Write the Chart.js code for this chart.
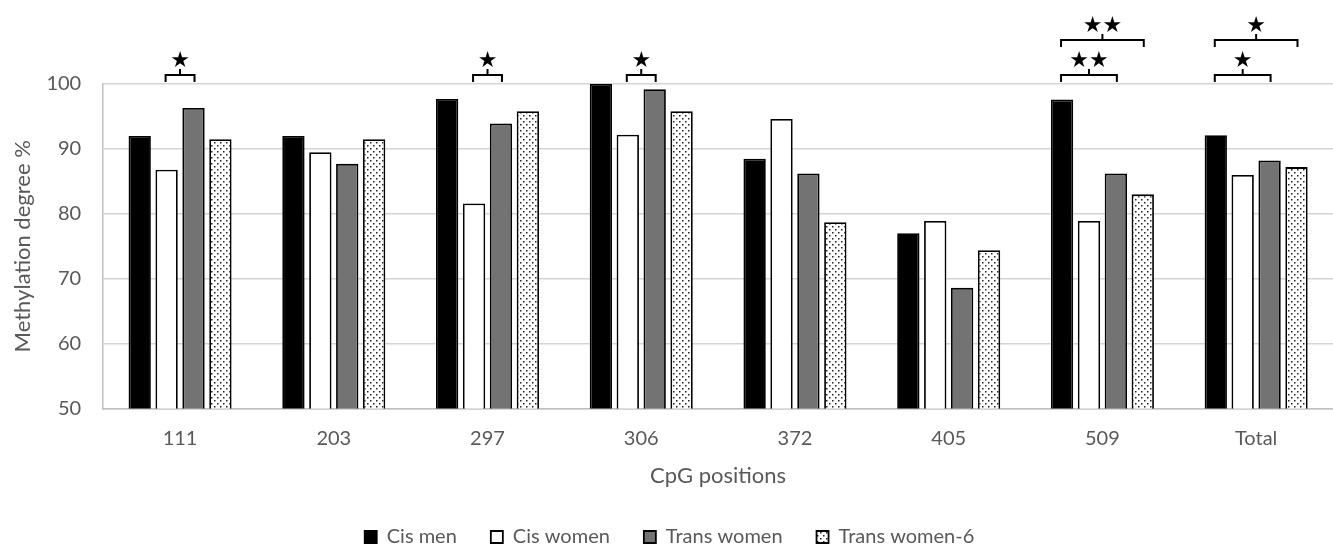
<!DOCTYPE html>
<html>
<head>
<meta charset="utf-8">
<script src="https://cdn.jsdelivr.net/npm/chart.js@4/dist/chart.umd.min.js"></script>
<style>
  html, body { margin: 0; padding: 0; background: #fff; }
  #wrap { width: 1333px; height: 544px; position: relative; }
</style>
</head>
<body>
<div id="wrap"><canvas id="c"></canvas></div>
<script>
// CpG positions and methylation degree (%) per group
const categories = ['111', '203', '297', '306', '372', '405', '509', 'Total'];
const cisMen        = [92.0, 92.0, 97.7, 100.0, 88.5, 77.0, 97.6, 92.1];
const cisWomen      = [86.8, 89.5, 81.6, 92.2, 94.6, 78.9, 78.9, 86.0];
const transWomen    = [96.3, 87.7, 93.9, 99.2, 86.2, 68.6, 86.2, 88.2];
const transWomen6   = [91.5, 91.5, 95.8, 95.8, 78.7, 74.4, 83.0, 87.2];
const yTicks = [50, 60, 70, 80, 90, 100];

// Significance brackets: category, first and second dataset, stacking level, stars
const sigCategory = [0, 2, 3, 6, 6, 7, 7];
const sigFrom     = [1, 1, 1, 0, 0, 0, 0];
const sigTo       = [2, 2, 2, 2, 3, 2, 3];
const sigLevel    = [0, 0, 0, 0, 1, 0, 1];
const sigStars    = ['★', '★', '★', '★★', '★★', '★', '★'];

const FONT = 'Lato, "Open Sans", sans-serif';
const TEXT = '#595959';

const ctxMain = document.getElementById('c').getContext('2d');

// Dotted fill for the Trans women-6 group
const dots = (function () {
  const p = document.createElement('canvas');
  p.width = 6; p.height = 6;
  const g = p.getContext('2d');
  g.fillStyle = '#ffffff';
  g.fillRect(0, 0, 6, 6);
  g.fillStyle = '#222222';
  g.fillRect(1, 1, 1.5, 1.5);
  g.fillRect(4, 4, 1.5, 1.5);
  return ctxMain.createPattern(p, 'repeat');
})();

const bracketPlugin = {
  id: 'sigBrackets',
  afterDatasetsDraw(chart) {
    const ctx = chart.ctx;
    const top = chart.chartArea.top;
    ctx.save();
    ctx.strokeStyle = '#000';
    ctx.lineWidth = 2;
    ctx.fillStyle = '#000';
    ctx.textAlign = 'center';
    ctx.textBaseline = 'middle';
    ctx.font = '22px "DejaVu Sans", sans-serif';
    for (let i = 0; i < sigCategory.length; i++) {
      const a = chart.getDatasetMeta(sigFrom[i]).data[sigCategory[i]];
      const b = chart.getDatasetMeta(sigTo[i]).data[sigCategory[i]];
      const x1 = a.x - 1, x2 = b.x + 1;
      const yb = top - 2 - sigLevel[i] * 35;
      const yt = yb - 7;
      ctx.beginPath();
      ctx.moveTo(x1, yb);
      ctx.lineTo(x1, yt);
      ctx.lineTo(x2, yt);
      ctx.lineTo(x2, yb);
      const xm = (x1 + x2) / 2;
      ctx.moveTo(xm, yt);
      ctx.lineTo(xm, yt - 6);
      ctx.stroke();
      ctx.fillText(sigStars[i], xm, yt - 14);
    }
    ctx.restore();
  }
};

const common = { borderColor: '#000', borderWidth: 1.8, barPercentage: 0.83, categoryPercentage: 0.7 };

new Chart(ctxMain, {
  type: 'bar',
  data: {
    labels: categories,
    datasets: [
      Object.assign({ label: 'Cis men', data: cisMen, backgroundColor: '#000000' }, common),
      Object.assign({ label: 'Cis women', data: cisWomen, backgroundColor: '#ffffff' }, common),
      Object.assign({ label: 'Trans women', data: transWomen, backgroundColor: '#737373' }, common),
      Object.assign({ label: 'Trans women-6', data: transWomen6, backgroundColor: dots }, common)
    ]
  },
  options: {
    responsive: true,
    maintainAspectRatio: false,
    animation: false,
    layout: { padding: { top: 84, right: 0, left: 6, bottom: 0 } },
    plugins: {
      tooltip: { enabled: false },
      legend: {
        position: 'bottom',
        maxHeight: 51,
        labels: {
          font: { family: FONT, size: 20 },
          color: TEXT,
          boxWidth: 12,
          boxHeight: 12,
          padding: 34,
          useBorderRadius: false
        }
      }
    },
    scales: {
      x: {
        grid: { display: false, drawTicks: false },
        border: { display: true, color: '#bfbfbf', width: 1.5 },
        ticks: { font: { family: FONT, size: 20 }, color: TEXT, padding: 18 },
        title: { display: true, text: 'CpG positions', font: { family: FONT, size: 22 }, color: TEXT, padding: { top: -6, bottom: 4 } }
      },
      y: {
        min: 50,
        max: 100,
        afterBuildTicks(axis) { axis.ticks = yTicks.map(v => ({ value: v })); },
        grid: { color: '#d4d4d4', lineWidth: 1.5, drawTicks: false },
        border: { display: true, color: '#bfbfbf', width: 1.5 },
        ticks: { font: { family: FONT, size: 20 }, color: TEXT, padding: 22 },
        title: { display: true, text: 'Methylation degree %', font: { family: FONT, size: 22 }, color: TEXT, padding: { top: 4, bottom: -12 } }
      }
    }
  },
  plugins: [bracketPlugin]
});
</script>
</body>
</html>
